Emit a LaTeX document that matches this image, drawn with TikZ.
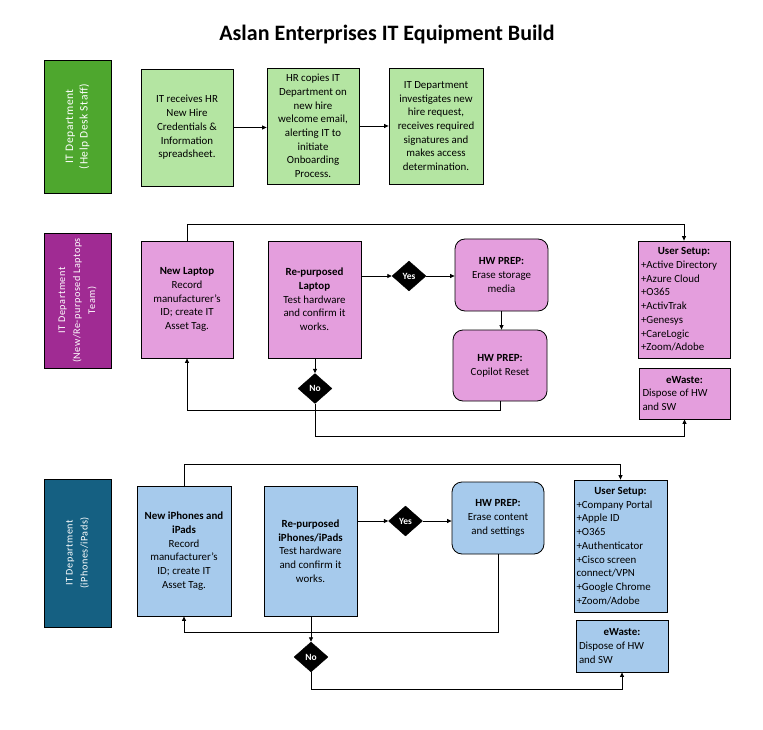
\documentclass[tikz,border=0pt]{standalone}
\usepackage{fontspec}
\setmainfont{Carlito}
\usetikzlibrary{shapes.geometric,arrows.meta}
\definecolor{gdark}{HTML}{4EA72E}
\definecolor{glight}{HTML}{B4E5A2}
\definecolor{pdark}{HTML}{A02B93}
\definecolor{plight}{HTML}{E49EDD}
\definecolor{bdark}{HTML}{156082}
\definecolor{blight}{HTML}{A6CAEC}
\begin{document}
\begin{tikzpicture}[x=1pt,y=-1pt,
  box/.style={draw=black, line width=0.8pt, align=center, inner sep=0pt,
    font=\fontsize{10.9}{13.7}\selectfont},
  rbox/.style={box, rounded corners=10pt},
  lane/.style={draw=black, line width=0.8pt, inner sep=0pt, text=white, align=center},
  lanetext/.style={rotate=90, text=white, align=center, inner sep=0pt},
  dia/.style={diamond, fill=black, draw=black, minimum width=34pt, minimum height=30pt,
    inner sep=0pt, text=white, font=\fontsize{9.5}{10}\selectfont\bfseries},
  arr/.style={draw=black, line width=0.8pt, -{Triangle[length=4.5pt,width=4pt]}}]
\fill[white] (0,0) rectangle (763,730);
\useasboundingbox (0,0) rectangle (763,730);

\node[font=\fontsize{22}{24}\selectfont\bfseries] (title) at (387,35) {Aslan Enterprises IT Equipment Build};

% ---------- Lane 1 ----------
\node[lane, fill=gdark, minimum width=67pt, minimum height=133pt] (lab1) at (77.5,126.5) {};
\node[lanetext, font=\fontsize{11.5}{14.5}\selectfont\addfontfeatures{LetterSpace=5}] (lt1) at (lab1.center) {IT Department\\(Help Desk Staff)};
\node[box, fill=glight, minimum width=92pt, minimum height=117pt] (b1) at (187,127.5)
  {IT receives HR\\New Hire\\Credentials \&\\Information\\spreadsheet.};
\node[box, fill=glight, minimum width=92pt, minimum height=116pt] (b2) at (313,126)
  {HR copies IT\\Department on\\new hire\\welcome email,\\alerting IT to\\initiate\\Onboarding\\Process.};
\node[box, fill=glight, minimum width=94pt, minimum height=116pt] (b3) at (436,126)
  {IT Department\\investigates new\\hire request,\\receives required\\signatures and\\makes access\\determination.};
\draw[arr] (b1.east) -- (b1.east -| b2.west);
\draw[arr] (b2.east) -- (b2.east -| b3.west);

% ---------- Lane 2 ----------
\node[lane, fill=pdark, minimum width=67pt, minimum height=135pt] (lab2) at (77.5,300.5) {};
\node[lanetext, font=\fontsize{10.2}{15}\selectfont\addfontfeatures{LetterSpace=5}] (lt2) at (lab2.center) {IT Department\\(New/Re-purposed Laptops\\Team)};
\node[box, fill=plight, minimum width=92pt, minimum height=117pt] (nl) at (187,299.5)
  {\textbf{New Laptop}\\Record\\manufacturer's\\ID; create IT\\Asset Tag.};
\node[box, fill=plight, minimum width=93pt, minimum height=117pt] (rl) at (314.5,299.5)
  {\textbf{Re-purposed}\\\textbf{Laptop}\\Test hardware\\and confirm it\\works.};
\node[dia] (yes1) at (409,276) {Yes};
\node[rbox, fill=plight, minimum width=93pt, minimum height=72pt] (hw1) at (501.5,275)
  {\textbf{HW PREP:}\\Erase storage\\media};
\node[rbox, fill=plight, minimum width=94pt, minimum height=71pt] (hw2) at (500,365.5)
  {\textbf{HW PREP:}\\Copilot Reset};
\node[box, fill=plight, minimum width=92pt, minimum height=117pt, align=left] (us1) at (684,299.5)
  {\makebox[86pt]{\textbf{User Setup:}}\\+Active Directory\\+Azure Cloud\\+O365\\+ActivTrak\\+Genesys\\+CareLogic\\+Zoom/Adobe};
\node[box, fill=plight, minimum width=91pt, minimum height=51pt, align=left] (ew1) at (684.5,393.5)
  {\makebox[84pt]{\textbf{eWaste:}}\\Dispose of HW\\and SW};
\node[dia] (no1) at (315,388.5) {No};

\coordinate (t1) at (0,224.5);
\coordinate (r1) at (0,410);
\coordinate (r2) at (0,436);
\draw[arr] (nl.north) -- (nl.north |- t1) -| (us1.north);
\draw[arr] (rl.east |- yes1) -- (yes1.west);
\draw[arr] (yes1.east) -- (yes1.east -| hw1.west);
\draw[arr] (hw1.south) -- (hw1.south |- hw2.north);
\draw[arr] (rl.south -| no1.north) -- (no1.north);
\draw[arr] (hw2.south) -- (hw2.south |- r1) -| (nl.south);
\draw[arr] (no1.south) -- (no1.south |- r2) -| (ew1.south);

% ---------- Lane 3 ----------
\node[lane, fill=bdark, minimum width=67pt, minimum height=148pt] (lab3) at (77.5,553) {};
\node[lanetext, font=\fontsize{10.2}{15}\selectfont\addfontfeatures{LetterSpace=5}] (lt3) at (lab3.center) {IT Department\\(iPhones/iPads)};
\node[box, fill=blight, minimum width=94pt, minimum height=130pt] (ni) at (184,551)
  {\textbf{New iPhones and}\\\textbf{iPads}\\Record\\manufacturer's\\ID; create IT\\Asset Tag.};
\node[box, fill=blight, minimum width=93pt, minimum height=130pt] (ri) at (310.5,551)
  {\textbf{Re-purposed}\\\textbf{iPhones/iPads}\\Test hardware\\and confirm it\\works.};
\node[dia] (yes2) at (405.5,521) {Yes};
\node[rbox, fill=blight, minimum width=92pt, minimum height=72pt] (hw3) at (498,518)
  {\textbf{HW PREP:}\\Erase content\\and settings};
\node[box, fill=blight, minimum width=93pt, minimum height=132pt, align=left] (us2) at (620.5,546)
  {\makebox[88pt]{\textbf{User Setup:}}\\+Company Portal\\+Apple ID\\+O365\\+Authenticator\\+Cisco screen\\connect/VPN\\+Google Chrome\\+Zoom/Adobe};
\node[box, fill=blight, minimum width=92pt, minimum height=52pt, align=left] (ew2) at (622,646)
  {\makebox[86pt]{\textbf{eWaste:}}\\Dispose of HW\\and SW};
\node[dia] (no2) at (311,657) {No};

\coordinate (t3) at (0,464);
\coordinate (r3) at (0,632);
\coordinate (r4) at (0,689);
\draw[arr] (ni.north) -- (ni.north |- t3) -| (us2.north);
\draw[arr] (ri.east |- yes2) -- (yes2.west);
\draw[arr] (yes2.east) -- (yes2.east -| hw3.west);
\draw[arr] (hw3.south) -- (hw3.south |- r3) -| (ni.south);
\draw[arr] (ri.south -| no2.north) -- (no2.north);
\draw[arr] (no2.south) -- (no2.south |- r4) -| (ew2.south);
\end{tikzpicture}
\end{document}
